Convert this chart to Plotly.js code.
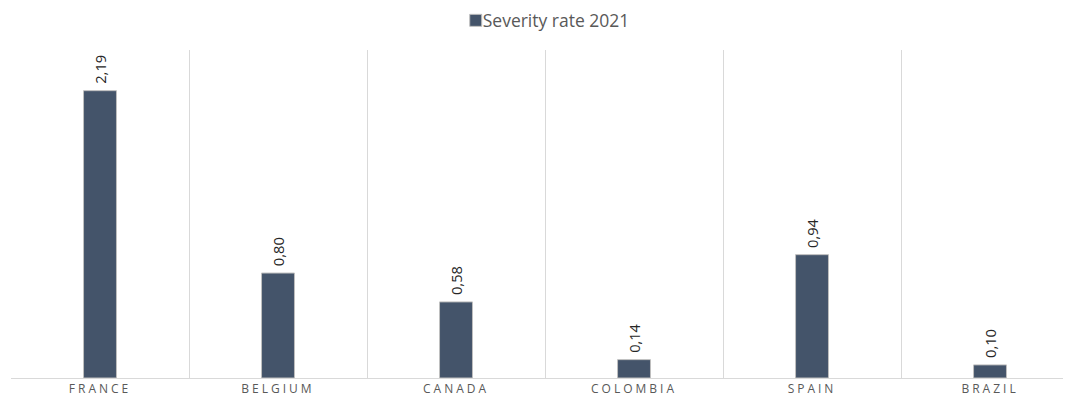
<!DOCTYPE html>
<html>
<head>
<meta charset="utf-8">
<script src="https://cdn.plot.ly/plotly-3.0.1.min.js"></script>
<style>
html,body{margin:0;padding:0;background:#fff;}
#chart{width:1065px;height:401px;}
.xtick text{letter-spacing:3px;}
.legend .legendtext{transform:translate(-13px,0);}
</style>
</head>
<body>
<div id="chart"></div>
<script>
const categories = ["FRANCE", "BELGIUM", "CANADA", "COLOMBIA", "SPAIN", "BRAZIL"];
const severity2021 = [2.19, 0.80, 0.58, 0.14, 0.94, 0.10];
const seriesName = "Severity rate 2021";

const labels = severity2021.map(v => "\u00a0" + v.toFixed(2).replace(".", ","));

const trace = {
  type: "bar",
  x: categories,
  y: severity2021,
  name: seriesName,
  width: 0.185,
  marker: {color: "#44546a", line: {color: "#bfbfbf", width: 1}},
  text: labels,
  textposition: "outside",
  textangle: -90,
  cliponaxis: false,
  textfont: {family: "'Open Sans', sans-serif", size: 15, color: "#262626"},
  hoverinfo: "x+y"
};

const layout = {
  width: 1065,
  height: 401,
  margin: {l: 11, r: 2, t: 50, b: 23},
  paper_bgcolor: "#ffffff",
  plot_bgcolor: "#ffffff",
  font: {family: "'Open Sans', sans-serif", color: "#595959"},
  showlegend: true,
  legend: {
    orientation: "h", x: 0.514, xanchor: "center", y: 1.09, yanchor: "middle",
    font: {size: 17.5, color: "#595959"}
  },
  xaxis: {
    type: "category",
    range: [-0.5, 5.41],
    tickson: "boundaries",
    showgrid: true,
    gridcolor: "#d9d9d9",
    gridwidth: 1,
    showline: true,
    linecolor: "#d9d9d9",
    linewidth: 1,
    ticks: "",
    tickfont: {size: 12, color: "#595959"},
    fixedrange: true
  },
  yaxis: {
    range: [0, 2.5],
    showgrid: false,
    zeroline: false,
    showticklabels: false,
    showline: false,
    fixedrange: true
  },
  bargap: 0.8
};

Plotly.newPlot("chart", [trace], layout, {displayModeBar: false, staticPlot: true});
</script>
</body>
</html>
